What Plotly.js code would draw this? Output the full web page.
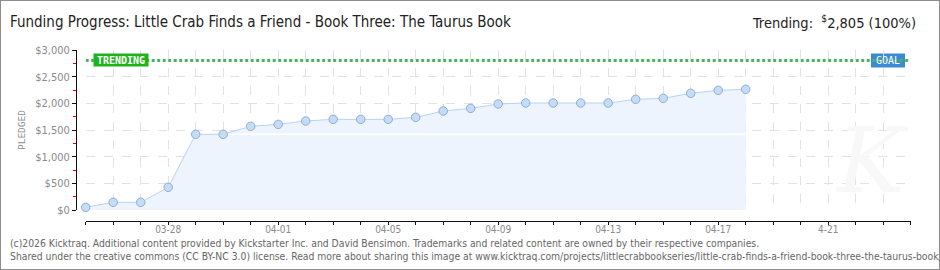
<!DOCTYPE html>
<html>
<head>
<meta charset="utf-8">
<script src="https://cdn.plot.ly/plotly-3.0.1.min.js"></script>
<style>
  html, body { margin: 0; padding: 0; background: #fff; }
  #wrap { position: relative; width: 940px; height: 270px; overflow: hidden; }
  #chart { width: 940px; height: 270px; }
  #frame { position: absolute; left: 0; top: 0; width: 940px; height: 270px; box-sizing: border-box; border: 1px solid #8c8c8c; pointer-events: none; }
</style>
</head>
<body>
<div id="wrap"><div id="chart"></div><div id="frame"></div></div>
<script>
// ---- data ----
const dates = ['2026-03-25','2026-03-26','2026-03-27','2026-03-28','2026-03-29','2026-03-30','2026-03-31',
  '2026-04-01','2026-04-02','2026-04-03','2026-04-04','2026-04-05','2026-04-06','2026-04-07','2026-04-08',
  '2026-04-09','2026-04-10','2026-04-11','2026-04-12','2026-04-13','2026-04-14','2026-04-15','2026-04-16',
  '2026-04-17','2026-04-18'];
const pledged = [50,144,144,425,1419,1419,1569,1606,1669,1700,1700,1700,1737,1856,1906,1988,2006,2006,2006,2006,2075,2094,2188,2244,2263];
const baseDates = ['2026-03-29','2026-04-18'];
const baseValues = [1419,1419];
const xRange = ['2026-03-25','2026-04-24'];
const tickDates = ['2026-03-28','2026-04-01','2026-04-05','2026-04-09','2026-04-13','2026-04-17','2026-04-21'];
const tickLabels = ['03-28','04-01','04-05','04-09','04-13','04-17','4-21'];
const trending = 2805;
const goal = 2805;
const titleText = 'Funding Progress: Little Crab Finds a Friend - Book Three: The Taurus Book';
const footer1 = '(c)2026 Kicktraq. Additional content provided by Kickstarter Inc. and David Bensimon. Trademarks and related content are owned by their respective companies.';
const footer2 = 'Shared under the creative commons (CC BY-NC 3.0) license. Read more about sharing this image at www.kicktraq.com/projects/littlecrabbookseries/little-crab-finds-a-friend-book-three-the-taurus-book/';

const W = 940, H = 270;
const px = v => v / W;
const py = v => 1 - v / H;
const fmt = n => n.toLocaleString('en-US');

const traces = [
  { x: dates, y: pledged, type: 'scatter', mode: 'none', fill: 'tozeroy', fillcolor: '#edf4fd', hoverinfo: 'skip' },
  { x: baseDates, y: baseValues, type: 'scatter', mode: 'lines', line: { color: '#ffffff', width: 1.5 }, hoverinfo: 'skip' },
  { x: xRange, y: [trending, trending], type: 'scatter', mode: 'lines', cliponaxis: false,
    line: { color: '#4cb35e', width: 3, dash: '3px,2.5px' }, hoverinfo: 'skip' },
  { x: dates, y: pledged, type: 'scatter', mode: 'lines+markers', cliponaxis: false,
    line: { color: '#b8d3f1', width: 1 },
    marker: { size: 8.5, color: '#c4dcf6', line: { color: '#8eaed3', width: 1 } } }
];

const tickFont = { family: 'DejaVu Sans Condensed, sans-serif', size: 11, color: '#8a8a8a' };

const layout = {
  width: W, height: H,
  margin: { l: 0, r: 0, t: 0, b: 0 },
  paper_bgcolor: '#ffffff', plot_bgcolor: 'rgba(0,0,0,0)',
  showlegend: false,
  xaxis: {
    type: 'date', range: xRange,
    domain: [px(85.7), px(910.7)],
    anchor: 'free', position: py(220.5),
    showline: true, linecolor: '#111', linewidth: 1,
    ticks: 'outside', ticklen: 3, tickcolor: '#111', tickwidth: 1,
    tickmode: 'array', tickvals: tickDates, ticktext: tickLabels,
    tickfont: { family: 'DejaVu Sans Condensed, sans-serif', size: 10, color: '#8a8a8a' }, ticklabelstandoff: -4,
    showgrid: true, gridcolor: '#e2e2e2', griddash: 'dash', gridwidth: 1,
    zeroline: false,
    minor: { tickmode: 'linear', tick0: '2026-03-25', dtick: 86400000, ticklen: 3, tickcolor: '#111', tickwidth: 1,
             showgrid: true, gridcolor: '#e2e2e2', griddash: 'dash', gridwidth: 1 }
  },
  yaxis: {
    range: [0, 3000],
    domain: [py(210), py(50)],
    anchor: 'free', position: px(76),
    showline: true, linecolor: '#111', linewidth: 1,
    ticks: 'outside', ticklen: 4, tickcolor: '#111', tickwidth: 1,
    dtick: 500, tick0: 0, tickprefix: '$', tickformat: ',d',
    tickfont: tickFont,
    showgrid: true, gridcolor: '#e2e2e2', griddash: 'dash', gridwidth: 1,
    zeroline: false,
    minor: { dtick: 250, tick0: 0, ticklen: 3, tickcolor: '#e00000', tickwidth: 1, showgrid: false },
    title: { text: 'PLEDGED', standoff: 6, font: { family: 'DejaVu Sans Mono, monospace', size: 9.5, color: '#8a8a8a' } }
  },
  shapes: [
    { type: 'rect', layer: 'between', xref: 'paper', yref: 'y', x0: px(871), x1: px(905),
      ysizemode: 'pixel', yanchor: goal, y0: -7, y1: 7,
      fillcolor: '#3b8ad8', line: { width: 0 } }
  ],
  annotations: [
    { text: titleText, xref: 'paper', yref: 'paper', x: px(8), y: py(22), xanchor: 'left', yanchor: 'middle',
      showarrow: false, font: { family: 'DejaVu Sans Condensed, sans-serif', size: 15, color: '#222' } },
    { text: 'Trending:  <sup>$</sup>' + fmt(trending) + ' (' + Math.round(trending / goal * 100) + '%)',
      xref: 'paper', yref: 'paper', x: px(918), y: py(22), xanchor: 'right', yanchor: 'middle',
      showarrow: false, font: { family: 'DejaVu Sans Condensed, sans-serif', size: 14.5, color: '#222' } },
    { text: 'TRENDING', xref: 'paper', yref: 'y', x: px(120.5), y: trending, xanchor: 'center', yanchor: 'middle',
      showarrow: false, bgcolor: '#1db31d', width: 54, height: 12, borderpad: 0,
      font: { family: 'DejaVu Sans Mono, monospace', size: 10, color: '#ffffff', weight: 'bold' } },
    { text: 'GOAL', xref: 'paper', yref: 'y', x: px(888), y: goal, xanchor: 'center', yanchor: 'middle',
      showarrow: false, font: { family: 'DejaVu Sans Mono, monospace', size: 10, color: '#ffffff' } },
    { text: 'K', xref: 'paper', yref: 'paper', x: px(872), y: py(160), xanchor: 'center', yanchor: 'middle',
      showarrow: false, font: { family: 'DejaVu Serif, serif', size: 90, color: '#f8f8f8', style: 'italic' } },
    { text: footer1, xref: 'paper', yref: 'paper', x: px(8), y: py(243), xanchor: 'left', yanchor: 'middle',
      showarrow: false, font: { family: 'DejaVu Sans Condensed, sans-serif', size: 10.3, color: '#666' } },
    { text: footer2, xref: 'paper', yref: 'paper', x: px(8), y: py(256), xanchor: 'left', yanchor: 'middle',
      showarrow: false, font: { family: 'DejaVu Sans Condensed, sans-serif', size: 10.3, color: '#666' } }
  ]
};

Plotly.newPlot('chart', traces, layout, { displayModeBar: false, staticPlot: true });
</script>
</body>
</html>
